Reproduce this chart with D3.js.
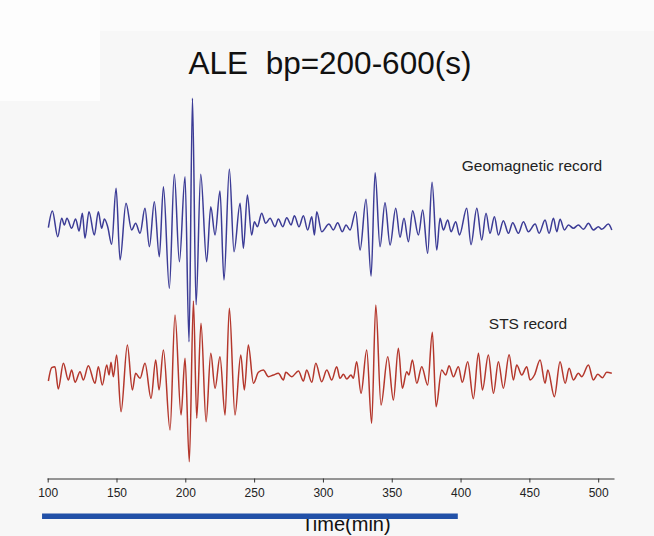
<!DOCTYPE html>
<html>
<head>
<meta charset="utf-8">
<script src="https://cdn.jsdelivr.net/npm/d3@7"></script>
<style>
  html, body { margin: 0; padding: 0; background: #f7f7f7; }
  svg { display: block; font-family: "Liberation Sans", Arial, Helvetica, sans-serif; }
</style>
</head>
<body>
<svg id="chart" width="654" height="536"></svg>
<script>
// ---- data (time in minutes, amplitude in arbitrary units) ----
const titleText = "ALE  bp=200-600(s)";
const xLabel = "Time(min)";
const seriesNames = ["Geomagnetic record", "STS record"];
const tickValues = [100, 150, 200, 250, 300, 350, 400, 450, 500];

const geoRecord = [
  [100.5,-1],[103.4,15.7],[107.3,-10],[110.2,8.4],[112.1,1.7],[114.0,8.4],[117.4,-1.6],[120.3,7.7],
  [122.8,-4.3],[125.2,13.4],[127.1,-11.6],[130.0,15],[133.9,-8.3],[136.8,15],[139.2,-1.6],[141.2,7.7],
  [143.6,0],[146.5,-17.6],[149.7,38.4],[152.6,-33.3],[156.9,23.4],[161.0,-3.3],[163.9,3.4],[167.1,-6.6],
  [170.7,18.4],[173.9,-20],[177.5,25],[181.1,-30],[184.1,40],[188.4,-61.6],[192.0,52.4],[195.7,-35],
  [199.8,50],[202.7,-115],[205.2,128.4],[207.8,-78],[211.2,52.4],[215.5,-35],[218.5,20],[221.6,-8.3],
  [225.2,35.7],[228.1,-53.3],[232.0,57.7],[235.4,-25],[239.8,23.4],[242.2,-21.6],[245.1,31.7],[248.2,-8.3],
  [250.2,5],[252.4,0],[255.5,13.4],[258.4,3.4],[261.6,8.4],[265.2,0],[267.6,7.7],[270.8,0],
  [273.7,9],[276.8,1.7],[279.3,11],[282.6,0],[285.8,11],[288.9,-3.3],[291.9,10],[293.8,-8.3],
  [295.5,15],[299.1,-5],[304.4,2.7],[307.6,-3.3],[310.7,4],[314.1,-5],[316.8,1.7],[319.7,-3.3],
  [323.8,15],[327.0,-23.3],[331.3,27.4],[335.0,-49.3],[337.9,54],[341.5,-20],[345.1,24],[348.8,-18.3],
  [352.9,18.4],[356.0,-10.6],[358.9,8.4],[362.1,-15],[365.2,16],[369.4,-8.3],[372.5,16.7],[376.1,-26.6],
  [379.3,44.4],[382.7,-23.3],[385.1,8.4],[387.5,-3.3],[390.7,6.7],[393.1,-5],[396.5,5],[399.2,-8.3],
  [404.5,18.4],[407.6,-18],[411.8,18.4],[415.4,-13.3],[418.5,13.4],[421.4,-6.6],[424.6,10],[427.5,-8.3],
  [431.1,6],[434.8,-6.6],[437.9,4],[442.0,-6.6],[445.7,5],[449.3,-5],[454.2,2.7],[457.1,-6.6],
  [461.4,6.7],[464.3,-6.6],[467.5,8.4],[469.9,-5],[472.3,7.4],[475.5,-3.3],[478.4,1.7],[482.0,-1.6],
  [485.6,1.7],[489.3,-2.6],[492.9,3.4],[496.5,-3.3],[500.2,0],[502.6,-2.6],[507.4,2.7],[509.9,-3.3]
];

const stsRecord = [
  [100.5,-4.3],[102.9,9],[105.3,10],[107.7,-12.3],[111.4,13.4],[115.0,-3.3],[117.4,6.7],[119.9,-5.6],
  [123.5,5],[125.9,-3.3],[129.5,11],[134.4,-6.6],[136.8,10],[139.7,-8.3],[142.9,11.7],[144.6,1.7],
  [146.0,14.4],[147.7,0],[150.1,21.7],[153.3,-35],[157.9,31.7],[161.5,-13.3],[163.9,3.4],[167.1,-1.6],
  [170.7,13.4],[175.1,-21.6],[178.5,16.7],[180.9,-13.3],[184.1,26.7],[188.9,-53.3],[192.5,61.7],[196.9,-38.3],
  [199.8,18.4],[202.9,-85],[205.9,75.7],[208.3,-41.6],[211.4,53.4],[215.1,-45],[218.5,23.4],[221.6,-11.6],
  [225.2,20],[228.9,-38.3],[232.0,68.4],[236.1,-38.3],[240.3,21.7],[242.9,-13.3],[245.8,31.7],[249.5,-6.6],
  [253.1,4.4],[256.7,6.7],[260.4,0],[264.0,1.7],[267.6,3.4],[271.3,-3.3],[273.0,4.4],[277.3,0],
  [282.2,5.7],[285.8,-4.3],[288.2,6.7],[291.9,-5.6],[294.8,13.4],[299.1,-5],[302.8,6.7],[306.4,-3.3],
  [310.0,10],[312.4,-1.6],[314.9,2.4],[317.3,-2.3],[320.4,1.7],[322.1,-1.6],[324.5,15],[327.7,-16.6],
  [331.8,26.7],[335.4,-46.6],[338.4,71.7],[342.2,-28.3],[347.1,20],[351.2,-23.3],[354.8,28.4],[357.7,-11.6],
  [360.9,5],[362.5,1.7],[365.0,16.7],[368.2,-6.6],[371.8,10],[376.1,-8.3],[379.5,44.4],[382.2,-30],
  [386.3,6.7],[389.2,1.7],[391.7,11],[394.8,0],[398.4,10],[401.3,-5.6],[405.2,15],[409.3,-22],
  [413.0,23.4],[415.9,-13.3],[420.2,21.7],[423.9,-16.6],[427.5,15],[431.1,-11.6],[435.3,22],[438.4,-3.3],
  [440.8,11.7],[444.5,1.7],[448.1,10],[450.5,-3.3],[453.7,1.7],[457.8,16.7],[461.4,-6.6],[463.4,6.7],
  [468.2,-20],[472.3,15],[476.0,-6.6],[478.9,8.4],[482.0,-3.3],[485.6,3.4],[488.1,0],[492.9,11.7],
  [496.5,-3.3],[499.7,2.4],[503.1,-1],[506.2,4.4],[509.9,3.4]
];

// Highlighted time span (blue bar under the axis)
const barSpan = [95.9, 398.0];

// ---- drawing ----
const svg = d3.select("#chart");
const W = 654, H = 536;

// background panels
svg.append("rect").attr("x", 0).attr("y", 0).attr("width", W).attr("height", H).attr("fill", "#f7f7f7");
svg.append("rect").attr("x", 0).attr("y", 0).attr("width", W).attr("height", 31).attr("fill", "#fbfbfb");
svg.append("rect").attr("x", 0).attr("y", 0).attr("width", 100).attr("height", 101).attr("fill", "#fdfdfd");

const x = d3.scaleLinear().domain([99.5, 511.5]).range([47, 614]);
const yGeo = d3.scaleLinear().domain([-130, 130]).range([356.7, 96.7]);
const ySts = d3.scaleLinear().domain([-90, 90]).range([466.7, 286.7]);

const lineGeo = d3.line().x(d => x(d[0])).y(d => yGeo(d[1])).curve(d3.curveMonotoneX);
const lineSts = d3.line().x(d => x(d[0])).y(d => ySts(d[1])).curve(d3.curveMonotoneX);

svg.append("path").datum(geoRecord).attr("d", lineGeo)
  .attr("fill", "none").attr("stroke", "#3c3c96").attr("stroke-width", 1.5).attr("stroke-linejoin", "round");
svg.append("path").datum(stsRecord).attr("d", lineSts)
  .attr("fill", "none").attr("stroke", "#b4372c").attr("stroke-width", 1.5).attr("stroke-linejoin", "round");

// title
svg.append("text").attr("x", 330).attr("y", 74).attr("text-anchor", "middle")
  .style("white-space", "pre").attr("font-size", 31.5).attr("fill", "#111").text(titleText);

// series labels
svg.append("text").attr("x", 532).attr("y", 171).attr("text-anchor", "middle")
  .attr("font-size", 15.5).attr("fill", "#222").text(seriesNames[0]);
svg.append("text").attr("x", 528).attr("y", 329).attr("text-anchor", "middle")
  .attr("font-size", 15.5).attr("fill", "#222").text(seriesNames[1]);

// axis
const axis = d3.axisBottom(x).tickValues(tickValues).tickSize(4).tickSizeOuter(0).tickPadding(6);
const gAxis = svg.append("g").attr("transform", "translate(0,478.5)").call(axis);
gAxis.select(".domain").attr("stroke", "#333");
gAxis.selectAll(".tick line").attr("stroke", "#333");
gAxis.selectAll(".tick text").attr("font-size", 12).attr("fill", "#222")
  .attr("font-family", "'Liberation Sans', Arial, sans-serif");

// x label
svg.append("text").attr("x", 346).attr("y", 531).attr("text-anchor", "middle")
  .attr("font-size", 20).attr("fill", "#111").text(xLabel);

// blue bar over label
svg.append("rect").attr("x", x(barSpan[0])).attr("y", 513.5)
  .attr("width", x(barSpan[1]) - x(barSpan[0])).attr("height", 5.5).attr("fill", "#2251a8");
</script>
</body>
</html>
